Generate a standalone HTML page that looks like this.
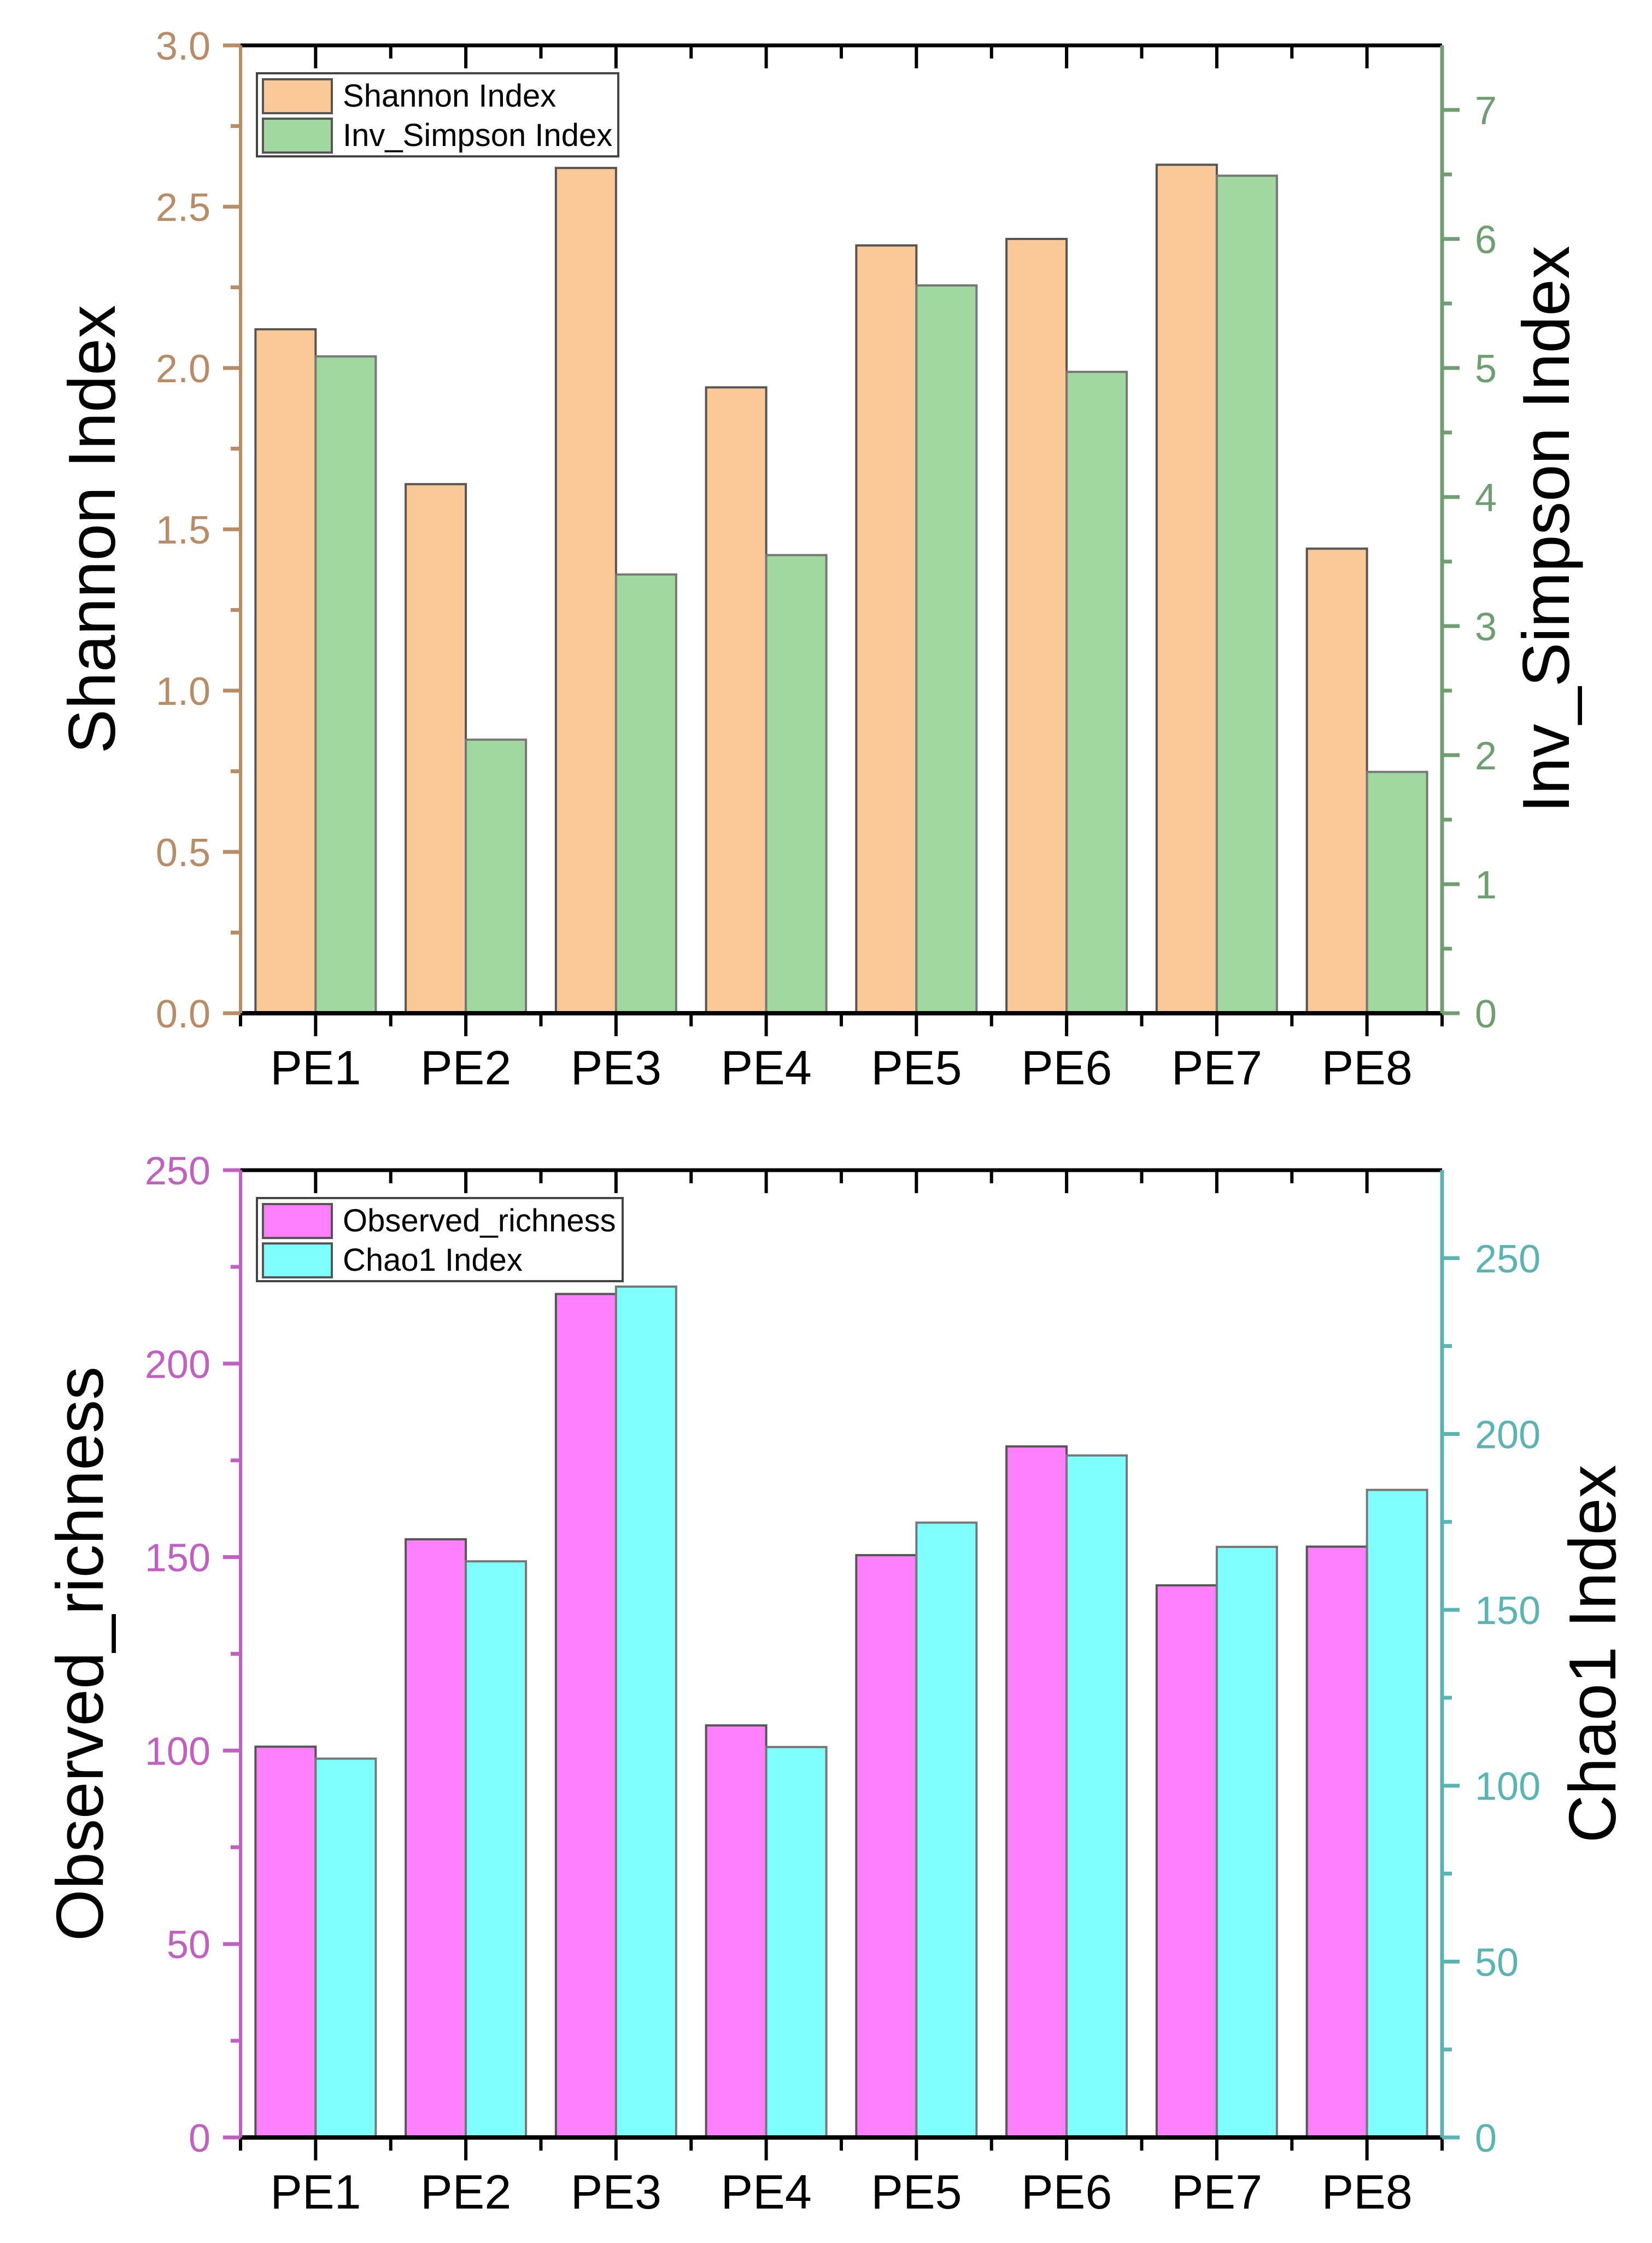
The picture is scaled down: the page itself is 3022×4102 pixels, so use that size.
<!DOCTYPE html>
<html><head><meta charset="utf-8">
<style>
html,body{margin:0;padding:0;background:#fff;}
svg{display:block;font-family:"Liberation Sans",Arial,sans-serif;}
</style></head>
<body>
<svg id="chart" width="3022" height="4102" viewBox="0 0 3022 4102" xmlns="http://www.w3.org/2000/svg"></svg>
<script>
const categories = ["PE1","PE2","PE3","PE4","PE5","PE6","PE7","PE8"];
const shannonValues = [2.12, 1.64, 2.62, 1.94, 2.38, 2.40, 2.63, 1.44];
const invSimpsonValues = [5.09, 2.12, 3.40, 3.55, 5.64, 4.97, 6.49, 1.87];
const observedValues = [101, 154.6, 218, 106.5, 150.5, 178.6, 142.7, 152.7];
const chao1Values = [107.7, 163.8, 241.9, 111, 174.8, 193.9, 167.9, 184.1];
const shannonTicks = [0, 0.5, 1.0, 1.5, 2.0, 2.5, 3.0];
const shannonTickLabels = ["0.0","0.5","1.0","1.5","2.0","2.5","3.0"];
const invSimpsonTicks = [0,1,2,3,4,5,6,7];
const observedTicks = [0,50,100,150,200,250];
const chao1Ticks = [0,50,100,150,200,250];

const NS = "http://www.w3.org/2000/svg";
const svg = document.getElementById("chart");
function mk(tag, attrs, parent){
  const e = document.createElementNS(NS, tag);
  for (const k in attrs) e.setAttribute(k, attrs[k]);
  (parent||svg).appendChild(e);
  return e;
}
const X0 = 440, X1 = 2638;
const groupW = (X1 - X0) / categories.length;
function xCenter(i){ return X0 + groupW*(i+0.5); }

function drawPanel(cfg){
  const g = mk("g", {});
  
  
  const yL = v => cfg.bottom - (v - 0) / cfg.leftMax * (cfg.bottom - cfg.top);
  const yR = v => cfg.bottom - (v - 0) / cfg.rightMax * (cfg.bottom - cfg.top);
  const bw = 110;
  categories.forEach((c,i)=>{
    const cx = xCenter(i);
    const r1 = mk("rect", {x:cx-bw, y:yL(cfg.s1[i]), width:bw, height:cfg.bottom-yL(cfg.s1[i]), fill:cfg.c1, stroke:"#555", "stroke-width":4}, g);
    
    
    const r2 = mk("rect", {x:cx, y:yR(cfg.s2[i]), width:bw, height:cfg.bottom-yR(cfg.s2[i]), fill:cfg.c2, stroke:"#777", "stroke-width":4}, g);
    
    
  });
  mk("line", {x1:X0, y1:cfg.bottom, x2:X1, y2:cfg.bottom, stroke:"#000", "stroke-width":8}, g);
  mk("line", {x1:X0, y1:cfg.top, x2:X1, y2:cfg.top, stroke:"#000", "stroke-width":7}, g);
  for (let i=0;i<=categories.length;i++){
    const x = X0 + groupW*i;
    mk("line", {x1:x, y1:cfg.bottom, x2:x, y2:cfg.bottom+24, stroke:"#000", "stroke-width":6}, g);
    mk("line", {x1:x, y1:cfg.top, x2:x, y2:cfg.top+24, stroke:"#000", "stroke-width":6}, g);
  }
  categories.forEach((c,i)=>{
    const x = xCenter(i);
    mk("line", {x1:x, y1:cfg.bottom, x2:x, y2:cfg.bottom+42, stroke:"#000", "stroke-width":6}, g);
    mk("line", {x1:x, y1:cfg.top, x2:x, y2:cfg.top+42, stroke:"#000", "stroke-width":6}, g);
    const t = mk("text", {x:x, y:cfg.bottom+130, "font-size":88, "text-anchor":"middle", fill:"#000"}, g);
    t.textContent = c;
    
    
  });
  mk("line", {x1:X0, y1:cfg.top, x2:X0, y2:cfg.bottom, stroke:cfg.lc, "stroke-width":6}, g);
  cfg.lt.forEach((v,i)=>{
    const y = yL(v);
    mk("line", {x1:X0-32, y1:y, x2:X0, y2:y, stroke:cfg.lc, "stroke-width":7}, g);
    const t = mk("text", {x:X0-55, y:y+26, "font-size":72, "text-anchor":"end", fill:cfg.lc}, g);
    t.textContent = cfg.ltl[i];
    
    
    const vm = v + cfg.lStep/2;
    if (vm < cfg.leftMax) mk("line", {x1:X0-18, y1:yL(vm), x2:X0, y2:yL(vm), stroke:cfg.lc, "stroke-width":7}, g);
  });
  mk("line", {x1:X1, y1:cfg.top, x2:X1, y2:cfg.bottom, stroke:cfg.rc, "stroke-width":7}, g);
  cfg.rt.forEach(v=>{
    const y = yR(v);
    mk("line", {x1:X1, y1:y, x2:X1+32, y2:y, stroke:cfg.rc, "stroke-width":7}, g);
    const t = mk("text", {x:X1+60, y:y+26, "font-size":72, "text-anchor":"start", fill:cfg.rc}, g);
    t.textContent = String(v);
    
    
    const vm = v + cfg.rStep/2;
    if (vm < cfg.rightMax) mk("line", {x1:X1, y1:yR(vm), x2:X1+18, y2:yR(vm), stroke:cfg.rc, "stroke-width":7}, g);
  });
  const mid = (cfg.top+cfg.bottom)/2;
  const lt = mk("text", {x:0, y:0, "font-size":122, "text-anchor":"middle", fill:"#000", transform:`translate(${cfg.ltx},${mid}) rotate(-90)`}, g);
  lt.textContent = cfg.lTitle;
  
  
  const rt = mk("text", {x:0, y:0, "font-size":122, "text-anchor":"middle", fill:"#000", transform:`translate(${cfg.rtx},${mid}) rotate(-90)`}, g);
  rt.textContent = cfg.rTitle;
  
  
  const lg = mk("g", {}, g);
  
  
  mk("rect", {x:470, y:cfg.top+51, width:cfg.legW, height:152, fill:"#fff", stroke:"#444", "stroke-width":4}, lg);
  [[cfg.c1,cfg.n1],[cfg.c2,cfg.n2]].forEach((e,i)=>{
    const yy = cfg.top+62+i*72;
    mk("rect", {x:481, y:yy, width:126, height:62, fill:e[0], stroke:"#555", "stroke-width":4}, lg);
    const t = mk("text", {x:627, y:yy+50, "font-size":58, fill:"#000"}, lg);
    t.textContent = e[1];
    
    
  });
}

drawPanel({name:"shannon-panel", top:83, bottom:1853, leftMax:3.0, rightMax:7.5,
  s1:shannonValues, s2:invSimpsonValues, k1:"shannon", k2:"inv-simpson",
  c1:"#fbc897", c2:"#a0d8a0", lc:"#b88c66", rc:"#6f9f6f",
  lt:shannonTicks, ltl:shannonTickLabels, lStep:0.5, rt:invSimpsonTicks, rStep:1,
  lTitle:"Shannon Index", rTitle:"Inv_Simpson Index", ltx:210, rtx:2870,
  n1:"Shannon Index", n2:"Inv_Simpson Index", legW:661});

drawPanel({name:"richness-panel", top:2140, bottom:3909, leftMax:250, rightMax:275,
  s1:observedValues, s2:chao1Values, k1:"observed", k2:"chao1",
  c1:"#ff80ff", c2:"#80ffff", lc:"#c060c0", rc:"#5ab4b4",
  lt:observedTicks, ltl:observedTicks.map(String), lStep:50, rt:chao1Ticks, rStep:50,
  lTitle:"Observed_richness", rTitle:"Chao1 Index", ltx:188, rtx:2955,
  n1:"Observed_richness", n2:"Chao1 Index", legW:669});
</script>
</body></html>
